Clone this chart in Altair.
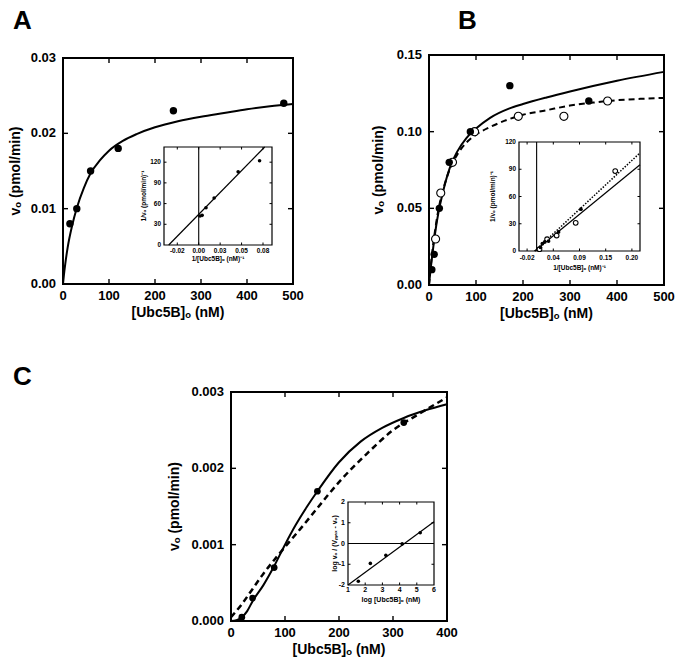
import altair as alt
import pandas as pd

W, H = 667, 649
FONT = "Liberation Sans"

# ---------------- data ----------------
panel_letters = ["A", "B", "C"]
x_title = "[Ubc5B]ₒ (nM)"
y_title = "vₒ (pmol/min)"

# Panel A
a_x = [15, 30, 60, 120, 240, 480]
a_y = [0.008, 0.010, 0.015, 0.018, 0.023, 0.024]
a_fit_x = [0, 2, 5, 10, 20, 30, 45, 60, 80, 100, 130, 160, 200, 250, 300, 350, 400, 450, 500]
a_fit_y = [0, 0.0012, 0.0027, 0.0048, 0.0078, 0.0101, 0.0127, 0.0147, 0.0164, 0.0177,
           0.0190, 0.0199, 0.0208, 0.0216, 0.0222, 0.0227, 0.0232, 0.0236, 0.0239]
a_xticks = [0, 100, 200, 300, 400, 500]
a_xlabels = ["0", "100", "200", "300", "400", "500"]
a_yticks = [0, 0.01, 0.02, 0.03]
a_ylabels = ["0.00", "0.01", "0.02", "0.03"]
a_inv_x = [0.0015, 0.004, 0.0085, 0.018, 0.046, 0.071]
a_inv_y = [42, 43, 54, 68, 106, 122]
a_inv_line_x = [-0.035, 0.077]
a_inv_line_y = [0, 142]
a_inset_xticks = [-0.025, 0, 0.025, 0.05, 0.075]
a_inset_xlabels = ["-0.02", "0.00", "0.03", "0.05", "0.08"]
a_inset_yticks = [0, 30, 60, 90, 120]
a_inset_ylabels = ["0", "30", "60", "90", "120"]

# Panel B
b_fill_x = [6, 11, 22, 43, 88, 172, 340]
b_fill_y = [0.010, 0.020, 0.050, 0.080, 0.100, 0.130, 0.120]
b_open_x = [14, 25, 50, 97, 190, 287, 380]
b_open_y = [0.030, 0.060, 0.080, 0.100, 0.110, 0.110, 0.120]
b_solid_x = [0, 3, 6, 10, 15, 20, 30, 45, 60, 80, 100, 130, 170, 200, 250, 300, 400, 500]
b_solid_y = [0, 0.009, 0.017, 0.027, 0.038, 0.047, 0.061, 0.077, 0.087, 0.096, 0.102,
             0.109, 0.115, 0.118, 0.1223, 0.1262, 0.1332, 0.139]
b_dash_x = [0, 5, 10, 20, 30, 45, 60, 80, 100, 130, 160, 200, 250, 300, 350, 400, 450, 500]
b_dash_y = [0, 0.016, 0.029, 0.049, 0.062, 0.076, 0.085, 0.093, 0.098, 0.103, 0.107,
            0.111, 0.114, 0.117, 0.119, 0.1205, 0.1214, 0.122]
b_xticks = [0, 100, 200, 300, 400, 500]
b_xlabels = ["0", "100", "200", "300", "400", "500"]
b_yticks = [0, 0.05, 0.10, 0.15]
b_ylabels = ["0.00", "0.05", "0.10", "0.15"]
b_inv_fill_x = [0.008, 0.012, 0.017, 0.025, 0.046, 0.093]
b_inv_fill_y = [4, 8, 10, 11, 21, 46]
b_inv_open_x = [0.006, 0.022, 0.042, 0.082, 0.165]
b_inv_open_y = [2, 13, 17, 31, 88]
b_inv_solid_x = [-0.004, 0.217]
b_inv_solid_y = [0, 95]
b_inv_dot_x = [-0.004, 0.217]
b_inv_dot_y = [0, 108]
b_inset_xticks = [-0.02, 0.035, 0.09, 0.145, 0.2]
b_inset_xlabels = ["-0.02", "0.04", "0.09", "0.15", "0.20"]
b_inset_yticks = [0, 30, 60, 90, 120]
b_inset_ylabels = ["0", "30", "60", "90", "120"]

# Panel C
c_x = [20, 40, 80, 160, 320]
c_y = [0.00005, 0.0003, 0.0007, 0.0017, 0.0026]
c_solid_x = [0, 10, 20, 30, 40, 60, 80, 100, 120, 140, 160, 200, 240, 280, 320, 360, 400]
c_solid_y = [0, 0.00001, 0.00005, 0.00013, 0.00026, 0.00047, 0.00072, 0.00100, 0.00126,
             0.00149, 0.00170, 0.00208, 0.00235, 0.00253, 0.00266, 0.00276, 0.00284]
c_dash_x = [0, 20, 40, 60, 80, 100, 130, 160, 200, 250, 300, 350, 400]
c_dash_y = [0.00005, 0.00022, 0.00042, 0.00062, 0.0008, 0.00097, 0.00122, 0.00148,
            0.00182, 0.00218, 0.0025, 0.00272, 0.00293]
c_xticks = [0, 100, 200, 300, 400]
c_xlabels = ["0", "100", "200", "300", "400"]
c_yticks = [0, 0.001, 0.002, 0.003]
c_ylabels = ["0.000", "0.001", "0.002", "0.003"]
c_hill_x = [1.6, 2.3, 3.2, 4.15, 5.2]
c_hill_y = [-1.82, -0.96, -0.57, -0.02, 0.52]
c_hill_line_x = [1, 6]
c_hill_line_y = [-2, 1.05]
c_inset_xticks = [1, 2, 3, 4, 5, 6]
c_inset_xlabels = ["1", "2", "3", "4", "5", "6"]
c_inset_yticks = [-2, -1, 0, 1, 2]
c_inset_ylabels = ["-2", "-1", "0", "1", "2"]

# ---------------- layout (pixels, chart coords) ----------------
BOX = {
    "A": dict(l=55, r=285, t=50, b=276),
    "Ai": dict(l=156, r=264, t=139, b=237),
    "B": dict(l=421, r=656, t=47, b=277),
    "Bi": dict(l=511, r=632, t=134, b=243),
    "C": dict(l=223, r=439, t=384, b=613),
    "Ci": dict(l=340, r=426, t=494, b=577),
}


def sx(dom, box):
    return alt.Scale(domain=dom, range=[box["l"], box["r"]], nice=False, zero=False)


def sy(dom, box):
    return alt.Scale(domain=dom, range=[box["b"], box["t"]], nice=False, zero=False)


def txt(fs, **kw):
    return dict(font=FONT, fontSize=fs, fontWeight="bold", color="black", **kw)


def frame_and_ticks(box, xdom, ydom, X, Y, xt_in, yt_in, tl, sw, white):
    fr = pd.DataFrame({"x0": [xdom[0]], "x1": [xdom[1]], "y0": [ydom[0]], "y1": [ydom[1]]})
    frame = alt.Chart(fr).mark_rect(
        fill="white", fillOpacity=1 if white else 0, stroke="black", strokeWidth=sw
    ).encode(
        x=alt.X("x0:Q", scale=X, axis=None), x2="x1",
        y=alt.Y("y0:Q", scale=Y, axis=None), y2="y1",
    )
    xt = pd.DataFrame({"v": xt_in})
    yt = pd.DataFrame({"v": yt_in})
    rw = max(1.0, sw * 0.7)
    bot = alt.Chart(xt).mark_rule(color="black", strokeWidth=rw).encode(
        x=alt.X("v:Q", scale=X, axis=None), y=alt.value(box["b"]), y2=alt.value(box["b"] - tl))
    top = alt.Chart(xt).mark_rule(color="black", strokeWidth=rw).encode(
        x=alt.X("v:Q", scale=X, axis=None), y=alt.value(box["t"]), y2=alt.value(box["t"] + tl))
    lef = alt.Chart(yt).mark_rule(color="black", strokeWidth=rw).encode(
        y=alt.Y("v:Q", scale=Y, axis=None), x=alt.value(box["l"]), x2=alt.value(box["l"] + tl))
    rig = alt.Chart(yt).mark_rule(color="black", strokeWidth=rw).encode(
        y=alt.Y("v:Q", scale=Y, axis=None), x=alt.value(box["r"]), x2=alt.value(box["r"] - tl))
    return [frame, bot, top, lef, rig]


def axis_texts(box, X, Y, xt, xl, yt, yl, fs_lab, fs_tit, xlab_dy, ylab_dx,
               xtitle, ytitle, xtit_dy, ytit_dx):
    xl_df = pd.DataFrame({"v": xt, "t": xl})
    yl_df = pd.DataFrame({"v": yt, "t": yl})
    xlabs = alt.Chart(xl_df).mark_text(**txt(fs_lab, align="center", baseline="middle")).encode(
        x=alt.X("v:Q", scale=X, axis=None), y=alt.value(box["b"] + xlab_dy), text="t:N")
    ylabs = alt.Chart(yl_df).mark_text(**txt(fs_lab, align="right", baseline="middle")).encode(
        y=alt.Y("v:Q", scale=Y, axis=None), x=alt.value(box["l"] - ylab_dx), text="t:N")
    xt_df = pd.DataFrame({"t": [xtitle]})
    yt_df = pd.DataFrame({"t": [ytitle]})
    xtit = alt.Chart(xt_df).mark_text(**txt(fs_tit, align="center", baseline="middle")).encode(
        x=alt.value((box["l"] + box["r"]) / 2), y=alt.value(box["b"] + xtit_dy), text="t:N")
    ytit = alt.Chart(yt_df).mark_text(**txt(fs_tit, align="center", baseline="middle", angle=270)).encode(
        x=alt.value(box["l"] - ytit_dx), y=alt.value((box["t"] + box["b"]) / 2), text="t:N")
    return [xlabs, ylabs, xtit, ytit]


def line(xs, ys, X, Y, sw=2, dash=None, interp="monotone"):
    kw = dict(color="black", strokeWidth=sw, interpolate=interp)
    if dash:
        kw["strokeDash"] = dash
    return alt.Chart(pd.DataFrame({"x": xs, "y": ys})).mark_line(**kw).encode(
        x=alt.X("x:Q", scale=X, axis=None), y=alt.Y("y:Q", scale=Y, axis=None))


def dots(xs, ys, X, Y, size, open_=False):
    if open_:
        m = alt.Chart(pd.DataFrame({"x": xs, "y": ys})).mark_point(
            shape="circle", filled=True, fill="white", stroke="black", strokeWidth=1.1,
            size=size, opacity=1)
    else:
        m = alt.Chart(pd.DataFrame({"x": xs, "y": ys})).mark_point(
            shape="circle", filled=True, color="black", size=size, opacity=1)
    return m.encode(x=alt.X("x:Q", scale=X, axis=None), y=alt.Y("y:Q", scale=Y, axis=None))


def main_panel(key, xdom, ydom, xt, xl, yt, yl, ytit_dx, content):
    box = BOX[key]
    X, Y = sx(xdom, box), sy(ydom, box)
    layers = frame_and_ticks(box, xdom, ydom, X, Y, xt[1:-1], yt[1:-1], 5, 2, False)
    layers += axis_texts(box, X, Y, xt, xl, yt, yl, 13, 14, 12, 7,
                         x_title, y_title, 29, ytit_dx)
    layers += content(X, Y)
    return alt.layer(*layers)


def inset_panel(key, xdom, ydom, xt, xl, yt, yl, xtitle, ytitle, fs,
                xlab_dy, xtit_dy, ytit_dx, content):
    box = BOX[key]
    X, Y = sx(xdom, box), sy(ydom, box)
    xin = [v for v in xt if xdom[0] < v < xdom[1] - 1e-9]
    yin = [v for v in yt if ydom[0] < v < ydom[1] - 1e-9]
    layers = frame_and_ticks(box, xdom, ydom, X, Y, xin, yin, 2.5, 1.2, True)
    layers += axis_texts(box, X, Y, xt, xl, yt, yl, fs, fs, xlab_dy, 3,
                         xtitle, ytitle, xtit_dy, ytit_dx)
    layers += content(X, Y)
    return alt.layer(*layers)


def zero_vline(ydom, X, Y):
    return alt.Chart(pd.DataFrame({"x": [0], "y0": [ydom[0]], "y1": [ydom[1]]})).mark_rule(
        color="black", strokeWidth=1.1).encode(
        x=alt.X("x:Q", scale=X, axis=None), y=alt.Y("y0:Q", scale=Y, axis=None), y2="y1")


def zero_hline(xdom, X, Y):
    return alt.Chart(pd.DataFrame({"y": [0], "x0": [xdom[0]], "x1": [xdom[1]]})).mark_rule(
        color="black", strokeWidth=1.1).encode(
        y=alt.Y("y:Q", scale=Y, axis=None), x=alt.X("x0:Q", scale=X, axis=None), x2="x1")


# ---------------- panels ----------------
A_main = main_panel("A", [0, 500], [0, 0.03], a_xticks, a_xlabels, a_yticks, a_ylabels, 47,
                    lambda X, Y: [line(a_fit_x, a_fit_y, X, Y, 2), dots(a_x, a_y, X, Y, 55)])

A_in_ydom = [0, 142]
A_inset = inset_panel("Ai", [-0.0405, 0.0855], A_in_ydom,
                      a_inset_xticks, a_inset_xlabels, a_inset_yticks, a_inset_ylabels,
                      "1/[Ubc5B]ₒ (nM)⁻¹", "1/vₒ (pmol/min)⁻¹", 6.5, 6, 14, 20,
                      lambda X, Y: [zero_vline(A_in_ydom, X, Y),
                                    line(a_inv_line_x, a_inv_line_y, X, Y, 1.2, interp="linear"),
                                    dots(a_inv_x, a_inv_y, X, Y, 13)])

B_main = main_panel("B", [0, 500], [0, 0.15], b_xticks, b_xlabels, b_yticks, b_ylabels, 50,
                    lambda X, Y: [line(b_dash_x, b_dash_y, X, Y, 2, dash=[6, 4]),
                                  line(b_solid_x, b_solid_y, X, Y, 2),
                                  dots(b_open_x, b_open_y, X, Y, 65, open_=True),
                                  dots(b_fill_x, b_fill_y, X, Y, 55)])

B_in_ydom = [0, 120]
B_inset = inset_panel("Bi", [-0.037, 0.217], B_in_ydom,
                      b_inset_xticks, b_inset_xlabels, b_inset_yticks, b_inset_ylabels,
                      "1/[Ubc5B]ₒ (nM)⁻¹", "1/vₒ (pmol/min)⁻¹", 6.5, 7, 17, 26,
                      lambda X, Y: [zero_vline(B_in_ydom, X, Y),
                                    line(b_inv_dot_x, b_inv_dot_y, X, Y, 1.5, dash=[1.5, 1.5], interp="linear"),
                                    line(b_inv_solid_x, b_inv_solid_y, X, Y, 1.2, interp="linear"),
                                    dots(b_inv_open_x, b_inv_open_y, X, Y, 22, open_=True),
                                    dots(b_inv_fill_x, b_inv_fill_y, X, Y, 14)])

C_main = main_panel("C", [0, 400], [0, 0.003], c_xticks, c_xlabels, c_yticks, c_ylabels, 56,
                    lambda X, Y: [line(c_dash_x, c_dash_y, X, Y, 2.5, dash=[6, 4]),
                                  line(c_solid_x, c_solid_y, X, Y, 2),
                                  dots(c_x, c_y, X, Y, 45)])

C_in_xdom = [1, 6]
C_inset = inset_panel("Ci", C_in_xdom, [-2, 2],
                      c_inset_xticks, c_inset_xlabels, c_inset_yticks, c_inset_ylabels,
                      "log [Ubc5B]ₒ (nM)", "log vₒ / (Vₘₐₓ - vₒ)", 7, 5, 15, 13,
                      lambda X, Y: [zero_hline(C_in_xdom, X, Y),
                                    line(c_hill_line_x, c_hill_line_y, X, Y, 1.2, interp="linear"),
                                    dots(c_hill_x, c_hill_y, X, Y, 13)])


def letter(i, px, py, base):
    return alt.Chart(pd.DataFrame({"t": [panel_letters[i]]})).mark_text(
        font=FONT, fontSize=26, fontWeight="bold", align="left", baseline=base,
        color="black").encode(text="t:N", x=alt.value(px), y=alt.value(py))


chart = alt.layer(
    A_main, A_inset, B_main, B_inset, C_main, C_inset,
    letter(0, 5, 0, "top"), letter(1, 450, 0, "top"), letter(2, 5, 377, "alphabetic"),
).resolve_scale(x="independent", y="independent").properties(
    width=W, height=H, padding=0, autosize=alt.AutoSizeParams(type="none")
).configure_view(stroke=None)

chart.save("out.html", embed_options={"renderer": "svg", "actions": False})
